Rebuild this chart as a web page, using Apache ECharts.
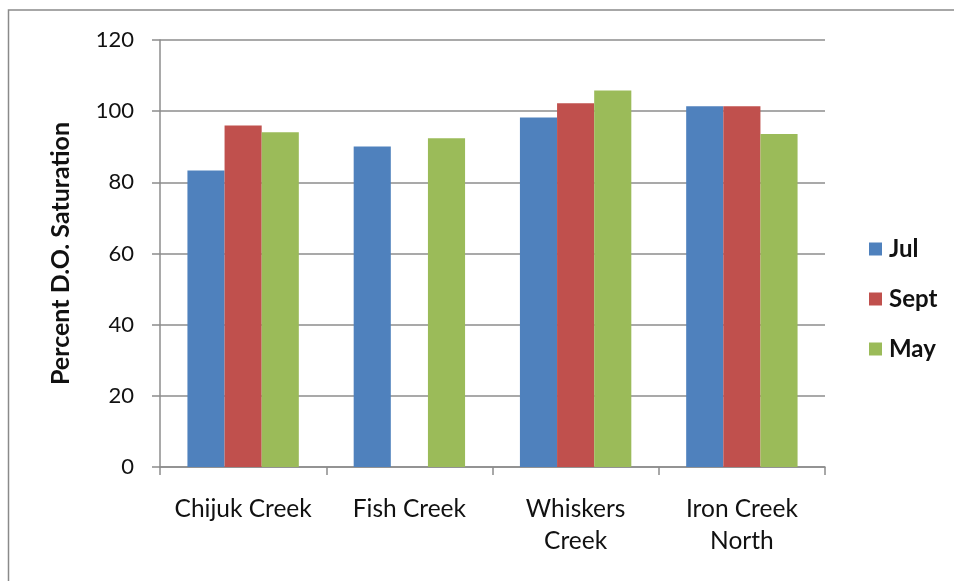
<!DOCTYPE html>
<html>
<head>
<meta charset="utf-8">
<script src="https://cdn.jsdelivr.net/npm/echarts@6/dist/echarts.min.js"></script>
<style>
  html, body { margin: 0; padding: 0; background: #fff; }
  #chart { width: 954px; height: 581px; }
</style>
</head>
<body>
<div id="chart"></div>
<script>
// Dissolved-oxygen saturation by creek and sampling month
const creeks = ['Chijuk Creek', 'Fish Creek', 'Whiskers\nCreek', 'Iron Creek\nNorth'];
const julValues = [83.3, 90.1, 98.2, 101.4];
const septValues = [96.0, null, 102.2, 101.4];
const mayValues = [94.1, 92.4, 105.8, 93.6];
const yTicks = [0, 20, 40, 60, 80, 100, 120];

const font = 'Lato, "Open Sans", sans-serif';
const axisGray = '#8c8c8c';

const chart = echarts.init(document.getElementById('chart'), null, { renderer: 'canvas' });

chart.setOption({
  animation: false,
  backgroundColor: '#fff',
  // frame lines along the top and left edges
  graphic: [
    {
      type: 'polyline',
      shape: { points: [[8.5, 600], [8.5, 10], [960, 10]] },
      style: { fill: 'none', stroke: '#8a8a8a', lineWidth: 1.5 },
      silent: true
    }
  ],
  grid: { left: 160, top: 40, right: 129, bottom: 114 },
  legend: {
    orient: 'vertical',
    left: 864,
    top: 232,
    itemWidth: 13,
    itemHeight: 13,
    itemGap: 26,
    icon: 'rect',
    textStyle: { fontFamily: font, fontSize: 24, fontWeight: 'bold', color: '#111', padding: [0, 0, 0, 2] },
    data: ['Jul', 'Sept', 'May']
  },
  xAxis: {
    type: 'category',
    data: creeks,
    axisLine: { lineStyle: { color: axisGray, width: 1.5 } },
    axisTick: { show: true, alignWithLabel: false, length: 8, lineStyle: { color: axisGray, width: 1.5 } },
    axisLabel: {
      fontFamily: font, fontSize: 24.5, color: '#111', margin: 26, lineHeight: 32, interval: 0
    }
  },
  yAxis: {
    type: 'value',
    min: 0,
    max: 120,
    interval: 20,
    name: 'Percent D.O. Saturation',
    nameLocation: 'middle',
    nameGap: 87,
    nameTextStyle: { fontFamily: font, fontSize: 25, fontWeight: 'bold', color: '#111' },
    axisLine: { show: true, lineStyle: { color: axisGray, width: 1.5 } },
    axisTick: { show: true, length: 8, lineStyle: { color: axisGray, width: 1.5 } },
    splitLine: { lineStyle: { color: axisGray, width: 1.5 } },
    axisLabel: {
      fontFamily: font, fontSize: 22, color: '#111', margin: 26,
      formatter: v => (yTicks.includes(v) ? String(v) : '')
    }
  },
  series: [
    { name: 'Jul', type: 'bar', data: julValues, itemStyle: { color: '#4F81BD' }, barGap: '0%', barCategoryGap: '33%' },
    { name: 'Sept', type: 'bar', data: septValues, itemStyle: { color: '#C0504D' }, barGap: '0%', barCategoryGap: '33%' },
    { name: 'May', type: 'bar', data: mayValues, itemStyle: { color: '#9BBB59' }, barGap: '0%', barCategoryGap: '33%' }
  ]
});
</script>
</body>
</html>
